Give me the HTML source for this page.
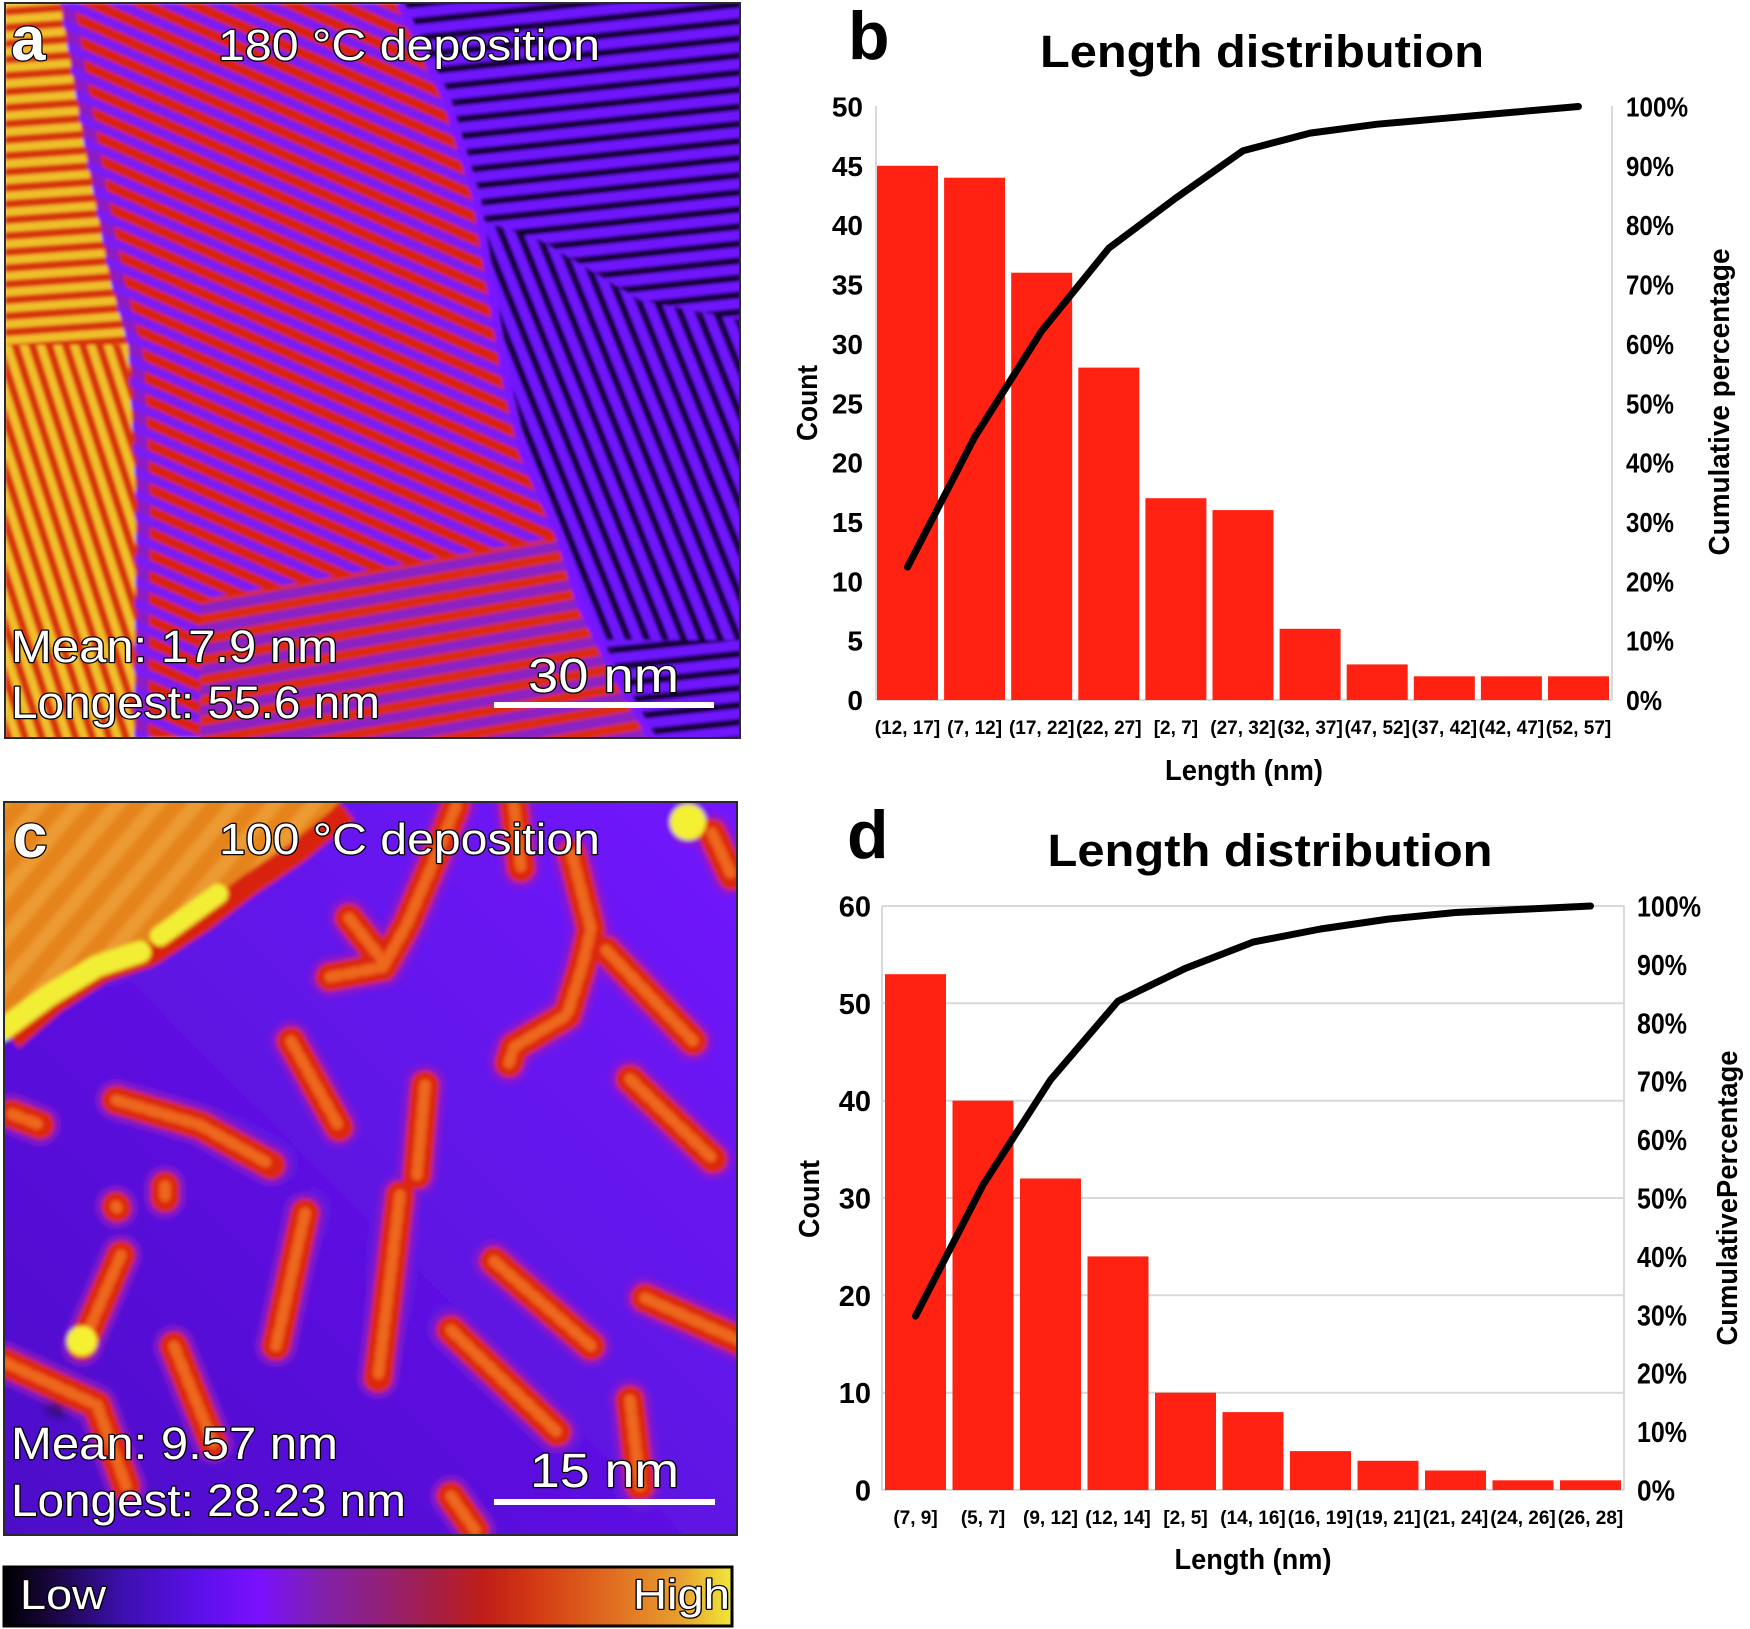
<!DOCTYPE html>
<html><head><meta charset="utf-8"><style>
html,body{margin:0;padding:0;background:#fff;}
svg{display:block;}
</style></head><body>
<svg width="1750" height="1629" viewBox="0 0 1750 1629" xmlns="http://www.w3.org/2000/svg" xmlns:xlink="http://www.w3.org/1999/xlink" font-family="'Liberation Sans', sans-serif">
<defs>
  <clipPath id="ca"><rect x="5" y="3" width="735" height="735"/></clipPath>
  <clipPath id="cc"><rect x="4" y="802" width="733" height="733"/></clipPath>
  <clipPath id="cd"><polygon points="400,3 447,100 477,200 493,300 507,383 523,453 560,537 580,603 613,670 653,740 742,740 742,0 400,0"/></clipPath>
  <filter id="soft" x="0" y="0" width="1" height="1"><feGaussianBlur stdDeviation="1.6"/></filter>
  <filter id="soft2" x="-0.1" y="-0.1" width="1.2" height="1.2"><feGaussianBlur stdDeviation="2"/></filter>
  <pattern id="pm1" width="20" height="20" patternUnits="userSpaceOnUse" patternTransform="rotate(24)">
    <rect width="20" height="20" fill="#7a1af2"/><rect width="20" height="11" fill="#d8220f"/>
  </pattern>
  <pattern id="pm2" width="20" height="20" patternUnits="userSpaceOnUse" patternTransform="rotate(-10)">
    <rect width="20" height="20" fill="#8a22c4"/><rect width="20" height="10" fill="#dc2a10"/>
  </pattern>
  <pattern id="pl1" width="16" height="16" patternUnits="userSpaceOnUse" patternTransform="rotate(-4)">
    <rect width="16" height="16" fill="#d83010"/><rect width="16" height="8" fill="#f0c02a"/>
  </pattern>
  <pattern id="pl2" width="16" height="16" patternUnits="userSpaceOnUse" patternTransform="rotate(72)">
    <rect width="16" height="16" fill="#d83010"/><rect width="16" height="8" fill="#f0c02a"/>
  </pattern>
  <pattern id="pd1" width="17" height="17" patternUnits="userSpaceOnUse" patternTransform="rotate(-6)">
    <rect width="17" height="17" fill="#0e0428"/><rect width="17" height="10" fill="#7012ff"/>
  </pattern>
  <pattern id="pd2" width="17" height="17" patternUnits="userSpaceOnUse" patternTransform="rotate(68)">
    <rect width="17" height="17" fill="#0e0428"/><rect width="17" height="10" fill="#7012ff"/>
  </pattern>
  <pattern id="po" width="30" height="30" patternUnits="userSpaceOnUse" patternTransform="rotate(-50)">
    <rect width="30" height="30" fill="#e6841e"/><rect width="30" height="14" fill="#ec9a30"/>
  </pattern>
  <linearGradient id="gc" gradientUnits="userSpaceOnUse" x1="737" y1="802" x2="4" y2="1535">
    <stop offset="0" stop-color="#7216ff"/><stop offset="1" stop-color="#4c0ec8"/>
  </linearGradient>
  <linearGradient id="gbar" x1="0" y1="0" x2="1" y2="0">
    <stop offset="0" stop-color="#000000"/>
    <stop offset="0.066" stop-color="#1a0640"/>
    <stop offset="0.165" stop-color="#3d10b0"/>
    <stop offset="0.265" stop-color="#5a10e8"/>
    <stop offset="0.35" stop-color="#7a10ff"/>
    <stop offset="0.43" stop-color="#8020b0"/>
    <stop offset="0.53" stop-color="#952070"/>
    <stop offset="0.6" stop-color="#a81e40"/>
    <stop offset="0.66" stop-color="#c01e18"/>
    <stop offset="0.73" stop-color="#d43a14"/>
    <stop offset="0.83" stop-color="#e06a20"/>
    <stop offset="0.93" stop-color="#e8a030"/>
    <stop offset="1" stop-color="#f0e838"/>
  </linearGradient>
  <radialGradient id="gspot"><stop offset="0" stop-color="#0a0418"/><stop offset="1" stop-color="#4a0ec8" stop-opacity="0"/></radialGradient>
  <g id="chains">
    <path d="M456,806 L430,870 L407,924 L383,967 L330,977"/>
    <path d="M349,918 L383,961"/>
    <path d="M514,806 L521,868"/>
    <path d="M572,854 L591,929 L582,967 L567,1015 L514,1047 L509,1063"/>
    <path d="M606,950 L693,1041"/>
    <path d="M712,833 L732,876"/>
    <path d="M291,1041 L339,1127"/>
    <path d="M116,1100 L200,1125 L271,1165"/>
    <path d="M425,1085 L417,1175"/>
    <path d="M630,1079 L713,1159"/>
    <path d="M12,1114 L40,1125"/>
    <path d="M165,1186 L165,1198"/>
    <path d="M116,1206 L117,1208"/>
    <path d="M305,1213 L276,1346"/>
    <path d="M400,1195 L378,1378"/>
    <path d="M494,1261 L591,1346"/>
    <path d="M451,1330 L557,1432"/>
    <path d="M645,1298 L740,1341"/>
    <path d="M121,1255 L82,1346"/>
    <path d="M4,1362 L97,1405 L126,1486"/>
    <path d="M174,1346 L213,1443"/>
    <path d="M630,1400 L640,1486"/>
    <path d="M451,1496 L475,1530"/>
    <path d="M688,822 L690,826"/>
  </g>
</defs>

<!-- Panel a -->
<g clip-path="url(#ca)">
<g filter="url(#soft)">
  <rect x="5" y="3" width="735" height="735" fill="url(#pm1)"/>
  <polygon points="200,600 560,537 653,740 200,740" fill="url(#pm2)"/>
  <polygon points="5,3 60,3 85,150 110,280 128,345 5,345" fill="url(#pl1)"/>
  <polygon points="5,345 128,345 136,500 134,740 5,740" fill="url(#pl2)"/>
  <polyline points="68,3 93,150 118,280 138,360 144,500 142,740" fill="none" stroke="#7a1af2" stroke-width="12" opacity="0.8"/>
  <polygon points="400,3 447,100 477,200 493,300 507,383 523,453 560,537 580,603 613,670 653,740 742,740 742,0 400,0" fill="url(#pd2)"/>
  <g clip-path="url(#cd)">
    <polygon points="400,0 742,0 742,320 640,300 540,240 480,220" fill="url(#pd1)"/>
    <rect x="600" y="640" width="142" height="100" fill="url(#pd1)"/>
  </g>
  <polyline points="400,3 447,100 477,200 493,300 507,383 523,453 560,537 580,603 613,670 653,740" fill="none" stroke="#7a16ff" stroke-width="8"/>
</g>
</g>
<rect x="5" y="3" width="735" height="735" fill="none" stroke="#2a2a2a" stroke-width="2"/>

<g fill="#fff" stroke="#000" stroke-width="2.5" paint-order="stroke" stroke-linejoin="round">
  <text x="11" y="60" font-size="62" font-weight="bold">a</text>
  <text x="218" y="60" font-size="44" textLength="382" lengthAdjust="spacingAndGlyphs">180 °C deposition</text>
  <text x="11" y="662" font-size="45" textLength="327" lengthAdjust="spacingAndGlyphs">Mean: 17.9 nm</text>
  <text x="11" y="718" font-size="45" textLength="369" lengthAdjust="spacingAndGlyphs">Longest: 55.6 nm</text>
  <text x="528" y="692" font-size="48" textLength="151" lengthAdjust="spacingAndGlyphs">30 nm</text>
</g>
<rect x="494" y="702" width="220" height="6" fill="#fff"/>

<!-- Panel c -->
<g clip-path="url(#cc)">
<g filter="url(#soft2)">
  <rect x="0" y="798" width="741" height="741" fill="url(#gc)"/>
  <circle cx="58" cy="1405" r="22" fill="url(#gspot)"/>
  <polyline points="4,1031 48,993 97,961 145,945 194,913 242,876 291,843 340,802" fill="none" stroke="#d8240e" stroke-width="46" stroke-linejoin="round"/>
  <polygon points="0,798 342,798 330,811 291,843 242,876 194,913 145,945 97,961 48,993 0,1033" fill="url(#po)"/>
  <polyline points="2,1030 48,996 97,966 140,952" fill="none" stroke="#f2ee34" stroke-width="22" stroke-linecap="round"/>
  <polyline points="160,936 218,894" fill="none" stroke="#f2ee34" stroke-width="20" stroke-linecap="round"/>
  <use xlink:href="#chains" fill="none" stroke="#9a1ac0" stroke-width="42" stroke-linecap="round" stroke-linejoin="round" opacity="0.55"/>
  <use xlink:href="#chains" fill="none" stroke="#dc260e" stroke-width="29" stroke-linecap="round" stroke-linejoin="round"/>
  <use xlink:href="#chains" fill="none" stroke="#f07420" stroke-width="11" stroke-linecap="round" stroke-linejoin="round" stroke-dasharray="10 7" opacity="0.85"/>
  <circle cx="688" cy="822" r="18" fill="#f5f030"/>
  <circle cx="82" cy="1341" r="15" fill="#f5f030"/>
</g>
</g>
<rect x="4" y="802" width="733" height="733" fill="none" stroke="#2a2a2a" stroke-width="2"/>

<g fill="#fff" stroke="#000" stroke-width="2.5" paint-order="stroke" stroke-linejoin="round">
  <text x="13" y="857" font-size="62" font-weight="bold">c</text>
  <text x="219" y="854" font-size="44" textLength="381" lengthAdjust="spacingAndGlyphs">100 °C deposition</text>
  <text x="11" y="1459" font-size="45" textLength="327" lengthAdjust="spacingAndGlyphs">Mean: 9.57 nm</text>
  <text x="11" y="1516" font-size="45" textLength="395" lengthAdjust="spacingAndGlyphs">Longest: 28.23 nm</text>
  <text x="530" y="1487" font-size="48" textLength="149" lengthAdjust="spacingAndGlyphs">15 nm</text>
</g>
<rect x="494" y="1499" width="221" height="6" fill="#fff"/>

<!-- Colorbar -->
<rect x="4" y="1567" width="728" height="59" fill="url(#gbar)" stroke="#000" stroke-width="3"/>
<g fill="#fff" stroke="#000" stroke-width="2.5" paint-order="stroke" stroke-linejoin="round" font-size="42">
  <text x="20" y="1609" textLength="86" lengthAdjust="spacingAndGlyphs">Low</text>
  <text x="633" y="1609" textLength="97" lengthAdjust="spacingAndGlyphs">High</text>
</g>

<!-- Chart b -->
<g font-weight="bold" fill="#000">
  <text x="848" y="59" font-size="68">b</text>
  <text x="1262" y="67" font-size="45" text-anchor="middle" textLength="444" lengthAdjust="spacingAndGlyphs">Length distribution</text>
</g>
<g stroke="#d9d9d9" stroke-width="2">
  <line x1="876" y1="106" x2="876" y2="700"/>
  <line x1="1612" y1="106" x2="1612" y2="700"/>
  <line x1="876" y1="700" x2="1612" y2="700"/>
</g>
<g fill="#ff2112">
  <rect x="877" y="165.8" width="61" height="534.2"/>
  <rect x="944.1" y="177.7" width="61" height="522.3"/>
  <rect x="1011.2" y="272.7" width="61" height="427.3"/>
  <rect x="1078.3" y="367.6" width="61" height="332.4"/>
  <rect x="1145.4" y="498.2" width="61" height="201.8"/>
  <rect x="1212.5" y="510.1" width="61" height="189.9"/>
  <rect x="1279.6" y="628.8" width="61" height="71.2"/>
  <rect x="1346.7" y="664.4" width="61" height="35.6"/>
  <rect x="1413.8" y="676.3" width="61" height="23.7"/>
  <rect x="1480.9" y="676.3" width="61" height="23.7"/>
  <rect x="1548" y="676.3" width="61" height="23.7"/>
</g>
<polyline points="907.5,567.1 974.6,437.2 1041.7,330.9 1108.8,248.2 1175.9,198 1243,150.8 1310.1,133.1 1377.2,124.2 1444.3,118.3 1511.4,112.4 1578.5,106.5" fill="none" stroke="#000" stroke-width="7" stroke-linecap="round" stroke-linejoin="round"/>
<g font-weight="bold" font-size="28" text-anchor="end">
  <text x="863" y="710">0</text>
  <text x="863" y="650.7">5</text>
  <text x="863" y="591.3">10</text>
  <text x="863" y="532">15</text>
  <text x="863" y="472.6">20</text>
  <text x="863" y="413.3">25</text>
  <text x="863" y="353.9">30</text>
  <text x="863" y="294.6">35</text>
  <text x="863" y="235.2">40</text>
  <text x="863" y="175.9">45</text>
  <text x="863" y="116.5">50</text>
</g>
<g font-weight="bold" font-size="28">
  <text x="1626" y="710" textLength="36" lengthAdjust="spacingAndGlyphs">0%</text>
  <text x="1626" y="650.7" textLength="48" lengthAdjust="spacingAndGlyphs">10%</text>
  <text x="1626" y="591.3" textLength="48" lengthAdjust="spacingAndGlyphs">20%</text>
  <text x="1626" y="532" textLength="48" lengthAdjust="spacingAndGlyphs">30%</text>
  <text x="1626" y="472.6" textLength="48" lengthAdjust="spacingAndGlyphs">40%</text>
  <text x="1626" y="413.3" textLength="48" lengthAdjust="spacingAndGlyphs">50%</text>
  <text x="1626" y="353.9" textLength="48" lengthAdjust="spacingAndGlyphs">60%</text>
  <text x="1626" y="294.6" textLength="48" lengthAdjust="spacingAndGlyphs">70%</text>
  <text x="1626" y="235.2" textLength="48" lengthAdjust="spacingAndGlyphs">80%</text>
  <text x="1626" y="175.9" textLength="48" lengthAdjust="spacingAndGlyphs">90%</text>
  <text x="1626" y="116.5" textLength="62" lengthAdjust="spacingAndGlyphs">100%</text>
</g>
<g font-weight="bold" font-size="19" text-anchor="middle">
  <text x="907.5" y="734">(12, 17]</text>
  <text x="974.6" y="734">(7, 12]</text>
  <text x="1041.7" y="734">(17, 22]</text>
  <text x="1108.8" y="734">(22, 27]</text>
  <text x="1175.9" y="734">[2, 7]</text>
  <text x="1243" y="734">(27, 32]</text>
  <text x="1310.1" y="734">(32, 37]</text>
  <text x="1377.2" y="734">(47, 52]</text>
  <text x="1444.3" y="734">(37, 42]</text>
  <text x="1511.4" y="734">(42, 47]</text>
  <text x="1578.5" y="734">(52, 57]</text>
</g>
<g font-weight="bold" font-size="29" text-anchor="middle">
  <text x="1244" y="780" textLength="158" lengthAdjust="spacingAndGlyphs">Length (nm)</text>
  <text transform="translate(817,403) rotate(-90)" textLength="76" lengthAdjust="spacingAndGlyphs">Count</text>
  <text transform="translate(1729,402) rotate(-90)" textLength="307" lengthAdjust="spacingAndGlyphs">Cumulative percentage</text>
</g>

<!-- Chart d -->
<g font-weight="bold" fill="#000">
  <text x="847" y="858" font-size="68">d</text>
  <text x="1270" y="866" font-size="45" text-anchor="middle" textLength="445" lengthAdjust="spacingAndGlyphs">Length distribution</text>
</g>
<g stroke="#d9d9d9" stroke-width="2">
  <line x1="882" y1="906" x2="1624" y2="906"/>
  <line x1="882" y1="1003.3" x2="1624" y2="1003.3"/>
  <line x1="882" y1="1100.7" x2="1624" y2="1100.7"/>
  <line x1="882" y1="1198" x2="1624" y2="1198"/>
  <line x1="882" y1="1295.3" x2="1624" y2="1295.3"/>
  <line x1="882" y1="1392.7" x2="1624" y2="1392.7"/>
  <line x1="882" y1="1490" x2="1624" y2="1490"/>
  <line x1="882" y1="906" x2="882" y2="1490"/>
  <line x1="1624" y1="906" x2="1624" y2="1490"/>
</g>
<g fill="#ff2112">
  <rect x="885" y="974.2" width="61" height="515.8"/>
  <rect x="952.5" y="1100.7" width="61" height="389.3"/>
  <rect x="1020" y="1178.5" width="61" height="311.5"/>
  <rect x="1087.5" y="1256.4" width="61" height="233.6"/>
  <rect x="1155" y="1392.7" width="61" height="97.3"/>
  <rect x="1222.5" y="1412.1" width="61" height="77.9"/>
  <rect x="1290" y="1451.1" width="61" height="38.9"/>
  <rect x="1357.5" y="1460.8" width="61" height="29.2"/>
  <rect x="1425" y="1470.5" width="61" height="19.5"/>
  <rect x="1492.5" y="1480.3" width="61" height="9.7"/>
  <rect x="1560" y="1480.3" width="61" height="9.7"/>
</g>
<polyline points="915.5,1316.1 983,1184.9 1050.5,1079.9 1118,1001.1 1185.5,968.3 1253,942.1 1320.5,929 1388,919.1 1455.5,912.5 1523,909.3 1590.5,906" fill="none" stroke="#000" stroke-width="7" stroke-linecap="round" stroke-linejoin="round"/>
<g font-weight="bold" font-size="29" text-anchor="end">
  <text x="871" y="1500.5">0</text>
  <text x="871" y="1403.2">10</text>
  <text x="871" y="1305.8">20</text>
  <text x="871" y="1208.5">30</text>
  <text x="871" y="1111.2">40</text>
  <text x="871" y="1013.8">50</text>
  <text x="871" y="916.5">60</text>
</g>
<g font-weight="bold" font-size="29">
  <text x="1637" y="1500.5" textLength="38" lengthAdjust="spacingAndGlyphs">0%</text>
  <text x="1637" y="1442.1" textLength="50" lengthAdjust="spacingAndGlyphs">10%</text>
  <text x="1637" y="1383.7" textLength="50" lengthAdjust="spacingAndGlyphs">20%</text>
  <text x="1637" y="1325.3" textLength="50" lengthAdjust="spacingAndGlyphs">30%</text>
  <text x="1637" y="1266.9" textLength="50" lengthAdjust="spacingAndGlyphs">40%</text>
  <text x="1637" y="1208.5" textLength="50" lengthAdjust="spacingAndGlyphs">50%</text>
  <text x="1637" y="1150.1" textLength="50" lengthAdjust="spacingAndGlyphs">60%</text>
  <text x="1637" y="1091.7" textLength="50" lengthAdjust="spacingAndGlyphs">70%</text>
  <text x="1637" y="1033.3" textLength="50" lengthAdjust="spacingAndGlyphs">80%</text>
  <text x="1637" y="974.9" textLength="50" lengthAdjust="spacingAndGlyphs">90%</text>
  <text x="1637" y="916.5" textLength="64" lengthAdjust="spacingAndGlyphs">100%</text>
</g>
<g font-weight="bold" font-size="19" text-anchor="middle">
  <text x="915.5" y="1524">(7, 9]</text>
  <text x="983" y="1524">(5, 7]</text>
  <text x="1050.5" y="1524">(9, 12]</text>
  <text x="1118" y="1524">(12, 14]</text>
  <text x="1185.5" y="1524">[2, 5]</text>
  <text x="1253" y="1524">(14, 16]</text>
  <text x="1320.5" y="1524">(16, 19]</text>
  <text x="1388" y="1524">(19, 21]</text>
  <text x="1455.5" y="1524">(21, 24]</text>
  <text x="1523" y="1524">(24, 26]</text>
  <text x="1590.5" y="1524">(26, 28]</text>
</g>
<g font-weight="bold" font-size="29" text-anchor="middle">
  <text x="1253" y="1569" textLength="157" lengthAdjust="spacingAndGlyphs">Length (nm)</text>
  <text transform="translate(819,1199) rotate(-90)" textLength="78" lengthAdjust="spacingAndGlyphs">Count</text>
  <text transform="translate(1737,1198) rotate(-90)" textLength="295" lengthAdjust="spacingAndGlyphs">CumulativePercentage</text>
</g>
</svg>
</body></html>
